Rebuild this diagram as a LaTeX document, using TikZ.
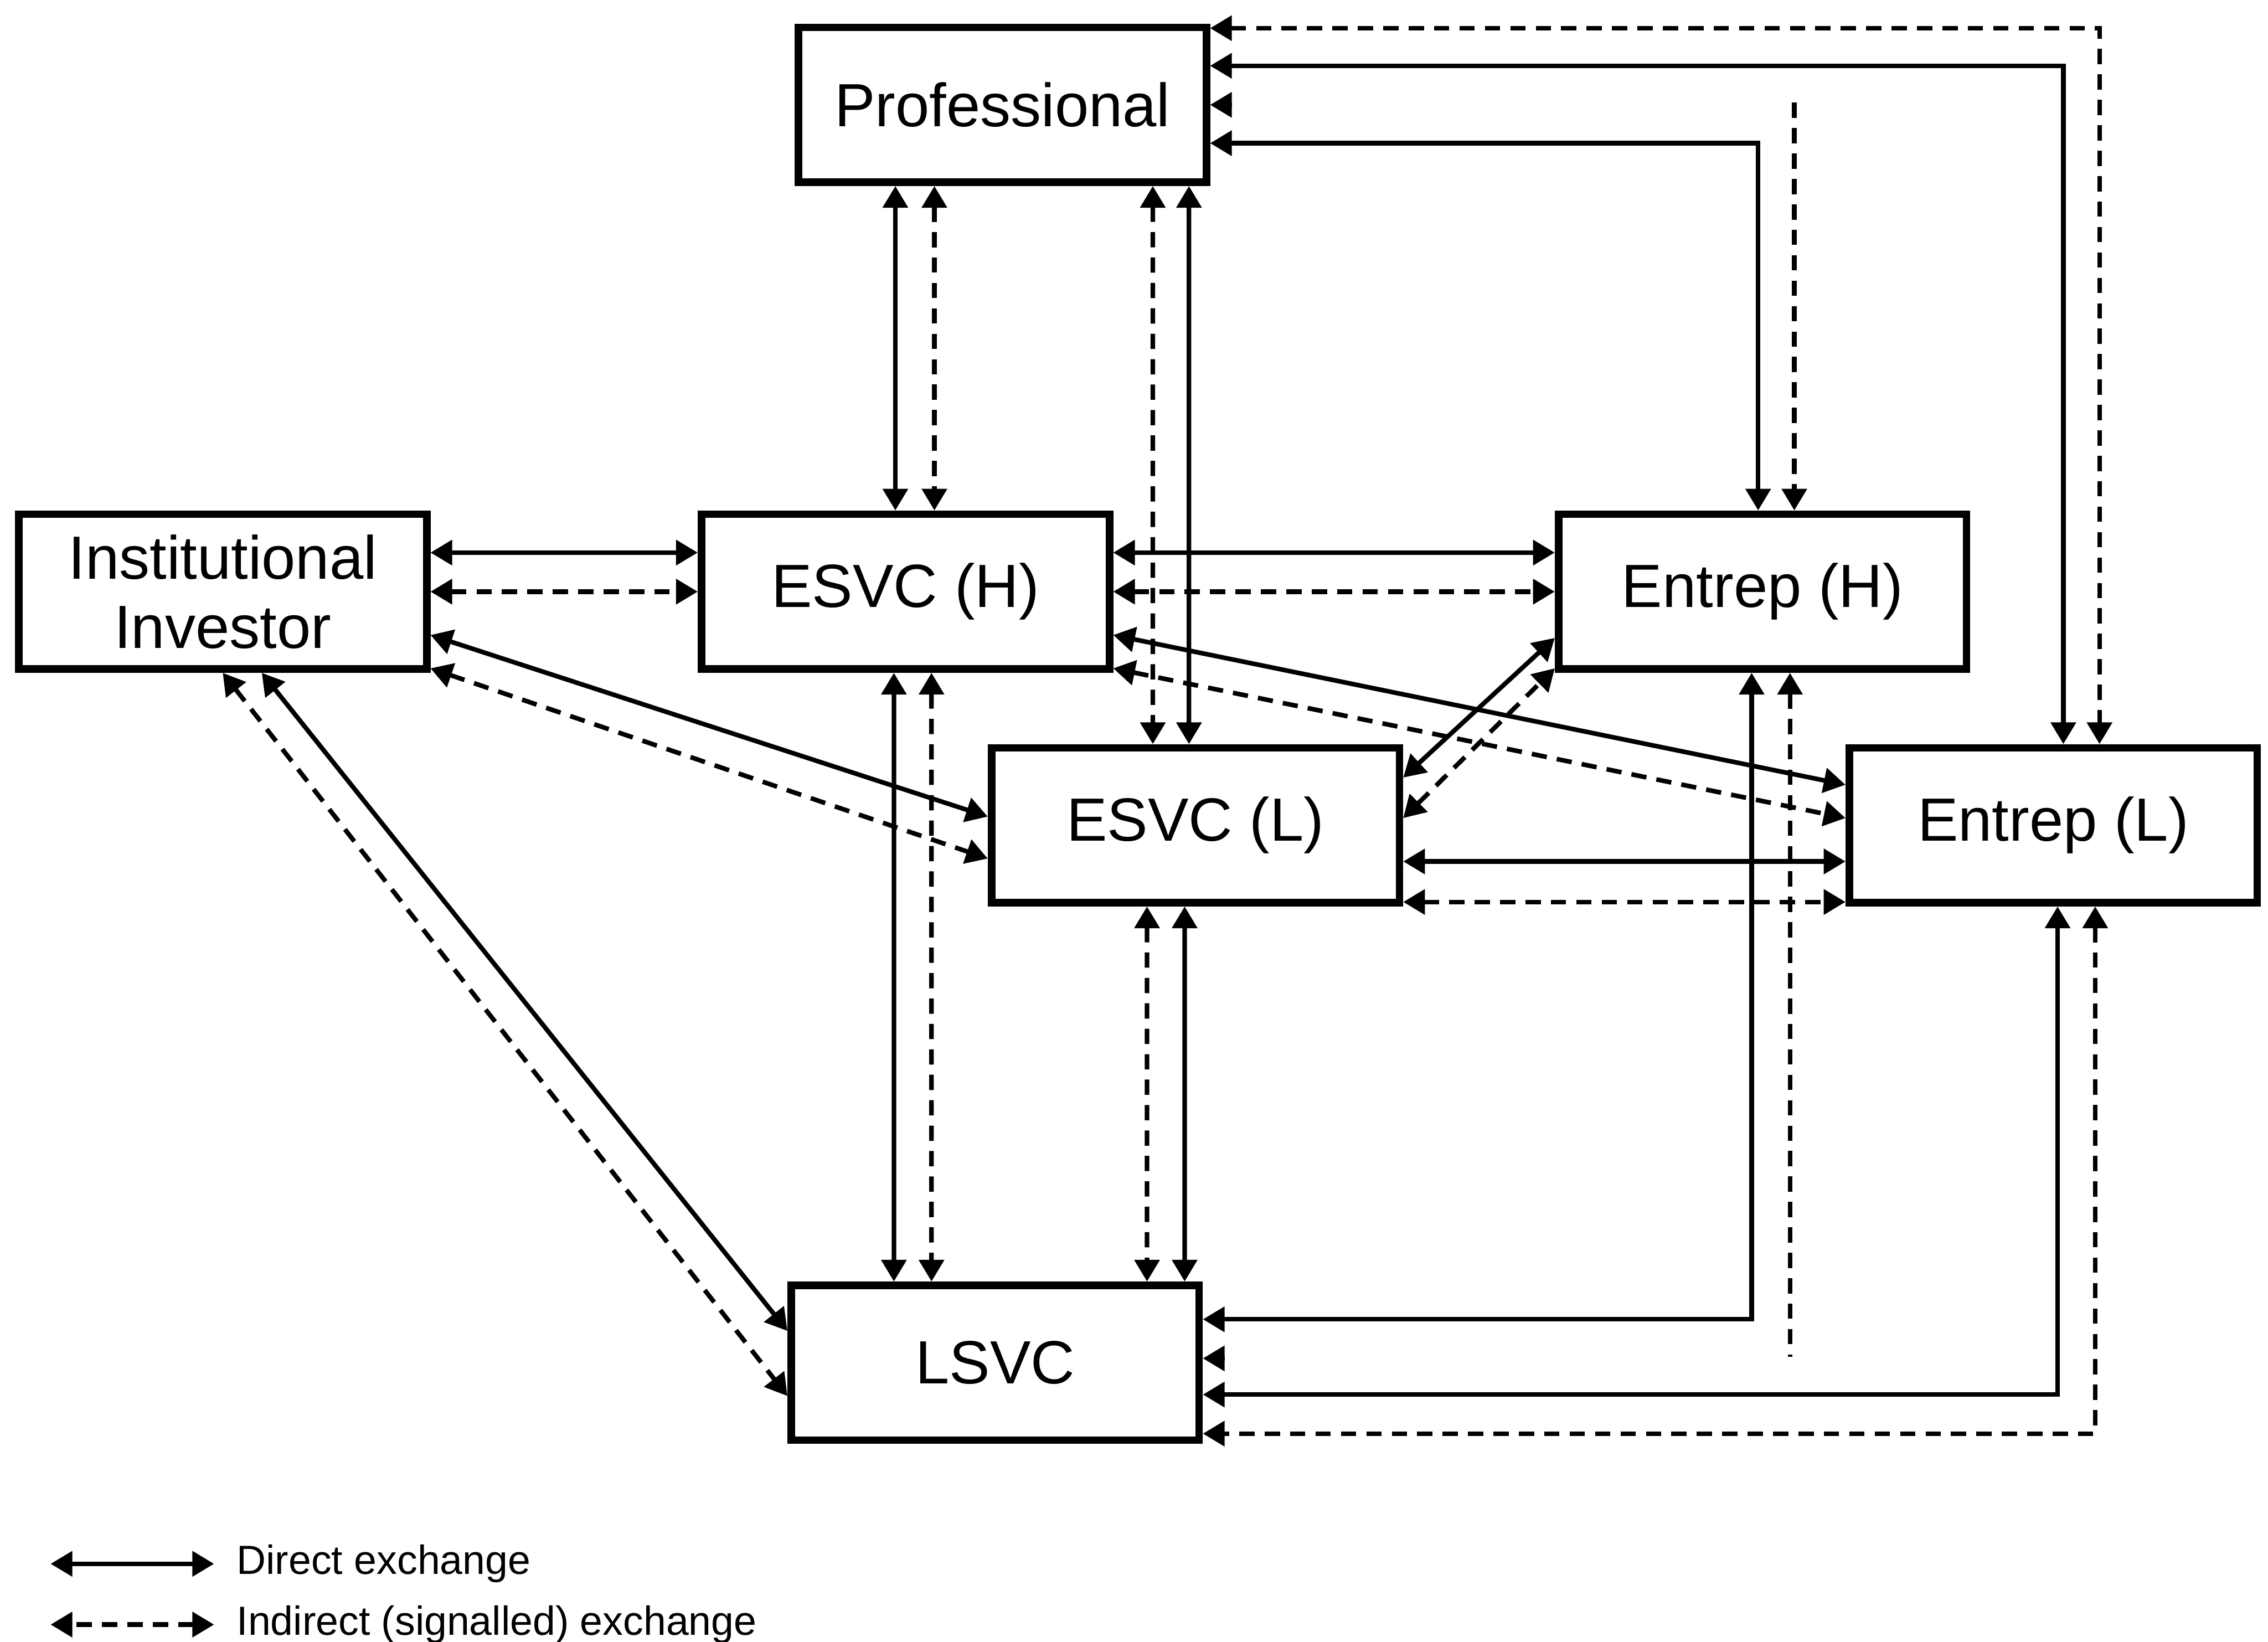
\documentclass[tikz,border=0pt]{standalone}
\usepackage{fontspec}
\setmainfont{Liberation Sans}
\usepackage{tikz}
\usetikzlibrary{arrows.meta,calc}

\begin{document}
\begin{tikzpicture}[>={Triangle[length=1.5mm,width=1.7mm]},
    box/.style={draw, line width=1.5pt, minimum width=2.82cm, minimum height=1.07cm,
      inner sep=0pt, align=center, font=\fontsize{12}{13.6}\selectfont},
    dir/.style={line width=0.9pt, <->},
    ind/.style={line width=0.9pt, <->, dash pattern=on 3pt off 2pt},
    leg/.style={inner sep=0pt, anchor=west, font=\fontsize{8}{9}\selectfont}]
      \useasboundingbox (0,0) rectangle (15.68,11.35);
      % Actors
      \node[box] (prof) at (6.93,10.625) {Professional};
      \node[box] (inst) at (1.54,7.26) {Institutional\\Investor};
      \node[box] (esvch) at (6.26,7.26) {ESVC (H)};
      \node[box] (enth) at (12.185,7.26) {Entrep (H)};
      \node[box] (esvcl) at (8.265,5.645) {ESVC (L)};
      \node[box] (entl) at (14.195,5.645) {Entrep (L)};
      \node[box] (lsvc) at (6.88,1.93) {LSVC};
      % Professional links
      \draw[dir] ($(prof.south)+(-0.74,0)$) -- ($(esvch.north)+(-0.07,0)$);
      \draw[ind] ($(prof.south)+(-0.47,0)$) -- ($(esvch.north)+(0.20,0)$);
      \draw[ind] ($(prof.south)+(1.04,0)$) -- ($(esvcl.north)+(-0.295,0)$);
      \draw[dir] ($(prof.south)+(1.29,0)$) -- ($(esvcl.north)+(-0.045,0)$);
      \draw[dir] ($(prof.east)+(0,-0.265)$) -| ($(enth.north)+(-0.03,0)$);
      \coordinate (pfree) at (12.405,10.64);
      \draw[ind,->] (pfree) -- ($(enth.north)+(0.22,0)$);
      \draw[ind,<-] (prof.east) -- ++(0.15,0);
      \draw[dir] ($(prof.east)+(0,0.27)$) -| ($(entl.north)+(0.07,0)$);
      \draw[ind] ($(prof.east)+(0,0.53)$) -| ($(entl.north)+(0.32,0)$);
      % Institutional investor links
      \draw[dir] ($(inst.east)+(0,0.27)$) -- ($(esvch.west)+(0,0.27)$);
      \draw[ind] (inst.east) -- (esvch.west);
      \draw[dir] ($(inst.east)+(0,-0.30)$) -- ($(esvcl.west)+(0,0.06)$);
      \draw[ind] ($(inst.east)+(0,-0.53)$) -- ($(esvcl.west)+(0,-0.23)$);
      \draw[dir] ($(inst.south)+(0.27,0)$) -- ($(lsvc.west)+(0,0.22)$);
      \draw[ind] (inst.south) -- ($(lsvc.west)+(0,-0.23)$);
      % ESVC (H) links
      \draw[dir] ($(esvch.east)+(0,0.27)$) -- ($(enth.west)+(0,0.27)$);
      \draw[ind] (esvch.east) -- (enth.west);
      \draw[dir] ($(esvch.east)+(0,-0.30)$) -- ($(entl.west)+(0,0.28)$);
      \draw[ind] ($(esvch.east)+(0,-0.53)$) -- ($(entl.west)+(0,0.05)$);
      \draw[dir] ($(esvch.south)+(-0.08,0)$) -- ($(lsvc.north)+(-0.70,0)$);
      \draw[ind] ($(esvch.south)+(0.18,0)$) -- ($(lsvc.north)+(-0.44,0)$);
      % ESVC (L) links
      \draw[dir] ($(esvcl.east)+(0,0.33)$) -- ($(enth.west)+(0,-0.32)$);
      \draw[ind] ($(esvcl.east)+(0,0.05)$) -- ($(enth.west)+(0,-0.53)$);
      \draw[dir] ($(esvcl.east)+(0,-0.25)$) -- ($(entl.west)+(0,-0.25)$);
      \draw[ind] ($(esvcl.east)+(0,-0.53)$) -- ($(entl.west)+(0,-0.53)$);
      \draw[ind] ($(esvcl.south)+(-0.335,0)$) -- ($(lsvc.north)+(1.05,0)$);
      \draw[dir] ($(esvcl.south)+(-0.075,0)$) -- ($(lsvc.north)+(1.31,0)$);
      % Entrep links to LSVC
      \draw[dir] ($(enth.south)+(-0.075,0)$) |- ($(lsvc.east)+(0,0.30)$);
      \coordinate (lfree) at (12.375,1.97);
      \draw[ind,<-] ($(enth.south)+(0.19,0)$) -- (lfree);
      \draw[ind,<-] ($(lsvc.east)+(0,0.03)$) -- ++(0.15,0);
      \draw[dir] ($(entl.south)+(0.03,0)$) |- ($(lsvc.east)+(0,-0.22)$);
      \draw[ind] ($(entl.south)+(0.29,0)$) |- ($(lsvc.east)+(0,-0.49)$);
      % Legend
      \node[leg] (ldir) at (1.63,0.54) {Direct exchange};
      \node[leg] (lind) at (1.63,0.12) {Indirect (signalled) exchange};
      \draw[dir] ($(ldir.west)+(-0.15,0)$) -- ++(-1.13,0);
      \draw[ind] ($(lind.west)+(-0.15,0)$) -- ++(-1.13,0);
    \end{tikzpicture}
\end{document}
